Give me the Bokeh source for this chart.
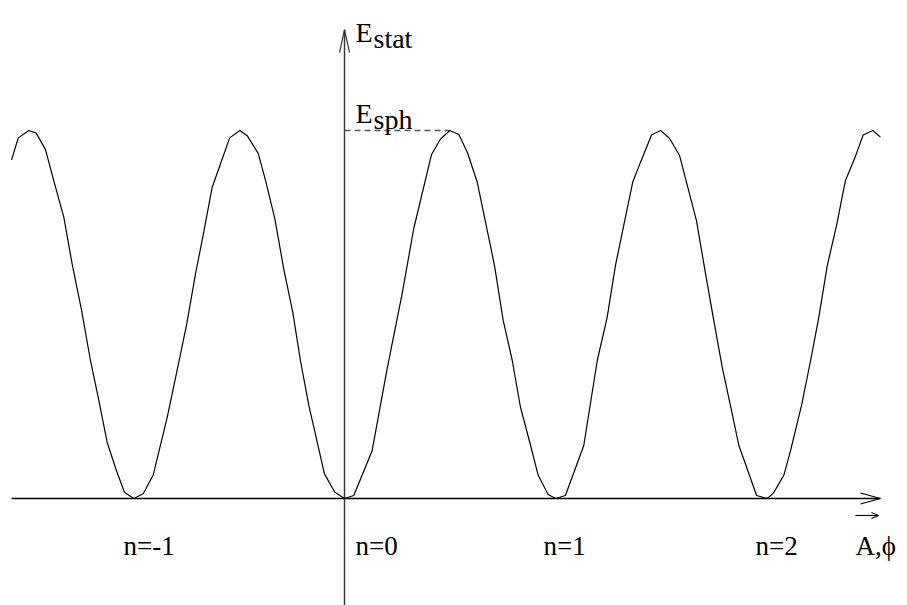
from bokeh.plotting import figure
from bokeh.models import Range1d
from bokeh.core.properties import value
from bokeh.embed import file_html
from bokeh.resources import INLINE

# ---- data (x in units of n, y in units of E_sph) ----
curve_x = [-1.578, -1.546, -1.496, -1.461, -1.417, -1.378, -1.330, -1.291, -1.246, -1.204,
           -1.164, -1.125, -1.081, -1.043, -0.999, -0.954, -0.907, -0.840, -0.777, -0.746,
           -0.706, -0.670, -0.627, -0.588, -0.544, -0.496, -0.461, -0.409, -0.374, -0.330,
           -0.288, -0.245, -0.209, -0.169, -0.095, -0.046, 0.000, 0.044, 0.131, 0.202,
           0.273, 0.328, 0.412, 0.455, 0.499, 0.542, 0.582, 0.629, 0.711, 0.752,
           0.795, 0.834, 0.882, 0.918, 0.965, 1.000, 1.047, 1.134, 1.198, 1.245,
           1.284, 1.366, 1.403, 1.455, 1.498, 1.540, 1.588, 1.668, 1.711, 1.750,
           1.790, 1.829, 1.869, 1.897, 1.953, 2.003, 2.032, 2.082, 2.114, 2.166,
           2.209, 2.248, 2.288, 2.332, 2.374, 2.417, 2.458, 2.504, 2.540]
curve_y = [0.920, 0.980, 1.000, 0.993, 0.948, 0.864, 0.764, 0.638, 0.511, 0.375,
           0.266, 0.153, 0.076, 0.017, 0.000, 0.013, 0.063, 0.221, 0.393, 0.479,
           0.611, 0.715, 0.846, 0.909, 0.980, 1.000, 0.986, 0.938, 0.864, 0.760,
           0.624, 0.506, 0.375, 0.253, 0.067, 0.017, 0.000, 0.008, 0.130, 0.352,
           0.556, 0.733, 0.934, 0.977, 1.000, 0.989, 0.941, 0.860, 0.633, 0.484,
           0.375, 0.248, 0.144, 0.063, 0.011, 0.000, 0.008, 0.144, 0.375, 0.493,
           0.633, 0.860, 0.914, 0.988, 1.000, 0.979, 0.932, 0.755, 0.611, 0.484,
           0.357, 0.253, 0.144, 0.099, 0.008, 0.000, 0.014, 0.063, 0.130, 0.253,
           0.375, 0.493, 0.633, 0.742, 0.864, 0.923, 0.988, 1.000, 0.982]

n_values = [-1, 0, 1, 2]
n_labels = ["n=-1", "n=0", "n=1", "n=2"]
E_sph = 1.0
E_sph_x = 0.499          # position of the first maximum right of n=0
y_axis_top = 1.274

# ---- figure ----
W, H = 907, 605
X0, X1 = -1.6303, 2.6682
Y0, Y1 = -0.2908, 1.3533
sx = W / (X1 - X0)       # pixels per data unit
sy = H / (Y1 - Y0)

p = figure(width=W, height=H, output_backend="svg", toolbar_location=None,
           x_range=Range1d(X0, X1), y_range=Range1d(Y0, Y1),
           x_axis_location=None, y_axis_location=None, min_border=0)
p.grid.visible = False
p.outline_line_color = None
p.background_fill_color = "white"
p.border_fill_color = "white"

FONT = value("Liberation Serif")

# horizontal axis with open arrow head
x_start, x_end = min(curve_x), max(curve_x)
p.line([x_start, x_end], [0, 0], line_color="black", line_width=1.4)
p.line([x_end - 20 / sx, x_end, x_end - 20 / sx], [5.5 / sy, 0, -5.5 / sy],
       line_color="black", line_width=1.2)

# vertical axis with open arrow head
p.line([0, 0], [Y0, y_axis_top], line_color="#333333", line_width=1.4)
p.line([-5 / sx, 0, 5 / sx], [y_axis_top - 23 / sy, y_axis_top, y_axis_top - 23 / sy],
       line_color="#333333", line_width=1.2)

# dashed E_sph level
p.line([0, E_sph_x], [E_sph, E_sph], line_color="#555555", line_width=1.4, line_dash="6 4")

# the curve
p.line(curve_x, curve_y, line_color="black", line_width=1.2)

# labels under the axis
p.text(x=n_values, y=[0] * len(n_values), text=n_labels,
       x_offset=[-10, 11, -12, -11], y_offset=48,
       text_font=FONT, text_font_size="27px", text_color="black",
       text_baseline="alphabetic", text_align="left")

# A,phi with vector arrow
p.text(x=[x_end], y=[0], text=["A,ϕ"], x_offset=-25, y_offset=48,
       text_font=FONT, text_font_size="27px", text_color="black",
       text_baseline="alphabetic", text_align="left")
ay = -17 / sy
p.line([x_end - 25 / sx, x_end - 2 / sx], [ay, ay], line_color="black", line_width=1.1)
p.line([x_end - 9 / sx, x_end - 2 / sx, x_end - 9 / sx], [ay + 3 / sy, ay, ay - 3 / sy],
       line_color="black", line_width=1.1)

# E_stat
p.text(x=[0], y=[y_axis_top], text=["E"], x_offset=11, y_offset=3,
       text_font=FONT, text_font_size="28px", text_color="black",
       text_baseline="alphabetic", text_align="left")
p.text(x=[0], y=[y_axis_top], text=["stat"], x_offset=29, y_offset=9,
       text_font=FONT, text_font_size="28px", text_color="black",
       text_baseline="alphabetic", text_align="left")

# E_sph
p.text(x=[0], y=[E_sph], text=["E"], x_offset=11, y_offset=-17,
       text_font=FONT, text_font_size="28px", text_color="black",
       text_baseline="alphabetic", text_align="left")
p.text(x=[0], y=[E_sph], text=["sph"], x_offset=29, y_offset=-11,
       text_font=FONT, text_font_size="28px", text_color="black",
       text_baseline="alphabetic", text_align="left")

open("out.html", "w").write(file_html(p, INLINE))
